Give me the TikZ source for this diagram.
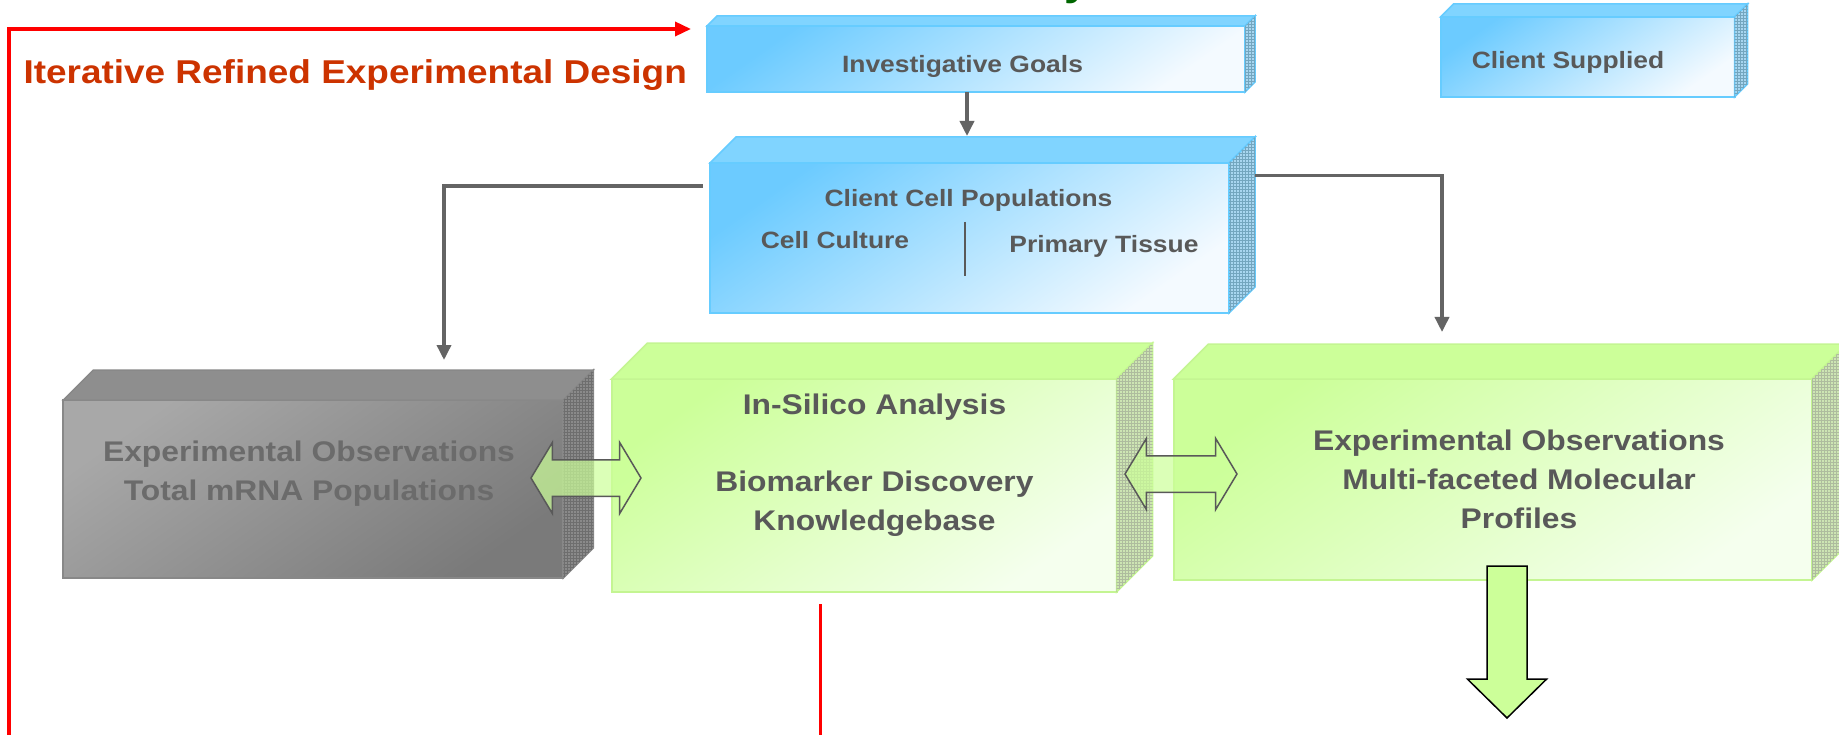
\documentclass[tikz,border=0pt]{standalone}
\usepackage{fontspec}
\setmainfont{Liberation Sans}[FakeStretch=1.12]
\usetikzlibrary{arrows.meta,shapes.arrows,patterns}

\definecolor{skyedge}{HTML}{66CCFF}
\definecolor{skytop}{HTML}{80D4FF}
\definecolor{skyside}{HTML}{A8D6F0}
\definecolor{skydeep}{HTML}{6CCBFF}
\definecolor{skypale}{HTML}{F4FAFF}
\definecolor{limeedge}{HTML}{C4F592}
\definecolor{limetop}{HTML}{CCFF99}
\definecolor{limeside}{HTML}{CDE5B3}
\definecolor{limepale}{HTML}{F5FFEE}
\definecolor{slateedge}{HTML}{888888}
\definecolor{slatetop}{HTML}{8E8E8E}
\definecolor{slateside}{HTML}{8A8A8A}
\definecolor{slatedeep}{HTML}{A8A8A8}
\definecolor{slatepale}{HTML}{7A7A7A}
\definecolor{slatetext}{HTML}{6B6B6B}
\definecolor{labelgray}{HTML}{595959}
\definecolor{wiregray}{HTML}{646464}
\definecolor{loopred}{HTML}{FF0000}
\definecolor{designred}{HTML}{CC3300}
\definecolor{titlegreen}{HTML}{006600}

\newcommand{\cubefaces}[3]{%
    \filldraw[#3lid] (#1.north west) -- ++(#2,-#2) -- ([shift={(#2,-#2)}]#1.north east) -- (#1.north east) -- cycle;
    \filldraw[#3flank] (#1.north east) -- ([shift={(#2,-#2)}]#1.north east) -- ([shift={(#2,-#2)}]#1.south east) -- (#1.south east) -- cycle;
}

\begin{document}
\begin{tikzpicture}
    [x=1pt, y=-1pt,
        conn/.style={draw=wiregray, line width=3.5pt, -{Triangle[length=15pt,width=14pt]}},
        loop/.style={draw=loopred, line width=3.5pt},
        skyfront/.style={draw=skyedge, line width=2pt, top color=skydeep, bottom color=skypale, shading angle=35},
        skylid/.style={fill=skytop, draw=skyedge, line width=1.5pt},
        skyflank/.style={fill=skyside, draw=skyedge, line width=1.5pt, postaction={pattern=grid, pattern color=skyedge!50!gray}},
        limefront/.style={draw=limeedge, line width=2pt, top color=limetop, bottom color=limepale, shading angle=35},
        limelid/.style={fill=limetop, draw=limeedge, line width=1.5pt},
        limeflank/.style={fill=limeside, draw=limeedge, line width=1.5pt, postaction={pattern=grid, pattern color=limeside!60!gray}},
        slatefront/.style={draw=slateedge, line width=2pt, top color=slatedeep, bottom color=slatepale, shading angle=35},
        slatelid/.style={fill=slatetop, draw=slateedge, line width=1.5pt},
        slateflank/.style={fill=slateside, draw=slateedge, line width=1.5pt, postaction={pattern=grid, pattern color=slateside!80!black}},
        boxlabel/.style={font=\fontsize{23.6pt}{28pt}\selectfont\bfseries, text=labelgray},
        biglabel/.style={font=\fontsize{28.4pt}{39pt}\selectfont\bfseries, text=labelgray, align=center},
        linkarrow/.style={double arrow, draw=labelgray, line width=1.5pt, fill=limetop, fill opacity=0.7, inner sep=17.5pt,
            minimum height=110pt, minimum width=70pt, double arrow head extend=17.5pt, double arrow tip angle=118},
    ]
    \tikzstyle{every node}=[inner sep=0pt, outer sep=0pt]
    \fill[white] (0,0) rectangle (1839,735);
    \useasboundingbox (0,0) rectangle (1839,735);

    % boxes
    \node[skyfront, minimum width=538pt, minimum height=66pt] (goals) at (976,59) {};
    \cubefaces{goals}{10}{sky}
    \node[skyfront, minimum width=294pt, minimum height=80pt] (supplied) at (1587.5,57) {};
    \cubefaces{supplied}{13}{sky}
    \node[skyfront, minimum width=519pt, minimum height=150pt] (cells) at (969.5,238) {};
    \cubefaces{cells}{26}{sky}
    \node[slatefront, minimum width=500pt, minimum height=178pt] (mrna) at (313.4,489) {};
    \cubefaces{mrna}{30}{slate}
    \node[limefront, minimum width=505pt, minimum height=213pt] (silico) at (864,485.5) {};
    \cubefaces{silico}{36}{lime}
    \node[limefront, minimum width=638.5pt, minimum height=201pt] (profiles) at (1492.75,479.5) {};
    \cubefaces{profiles}{35}{lime}

    % labels
    \node[boxlabel, anchor=base] (goalslabel) at (962.5,72.7) {Investigative Goals};
    \node[boxlabel, anchor=base] (suppliedlabel) at (1568,68.3) {Client Supplied};
    \node[boxlabel, anchor=base] (cellslabel) at (968.5,206.7) {Client Cell Populations};
    \node[boxlabel, anchor=base] (culturelabel) at (835,249) {Cell Culture};
    \node[boxlabel, anchor=base] (tissuelabel) at (1104,252.7) {Primary Tissue};
    \draw[labelgray, line width=1.2pt] ([xshift=-4.5pt,yshift=16pt]cells.center) -- ++(0,54);
    \node[biglabel, text=slatetext, anchor=base] (mrnalabel) at (309,500.7) {Experimental Observations\\Total mRNA Populations};
    \node[biglabel, anchor=base] (silicolabel) at (874.5,530) {In-Silico Analysis\\[38pt]Biomarker Discovery\\Knowledgebase};
    \node[biglabel, anchor=base] (profileslabel) at (1519,528.3) {Experimental Observations\\Multi-faceted Molecular\\Profiles};
    \node[anchor=base west, font=\fontsize{33pt}{40pt}\selectfont\bfseries, text=designred] (designlabel) at (23.5,83.3) {Iterative Refined Experimental Design};
    \node[anchor=base, font=\fontsize{40pt}{48pt}\selectfont\bfseries, text=titlegreen] (titletail) at (1077,-4) {y};

    % connectors
    \draw[conn] ([xshift=-9pt]goals.south) -- ([xshift=-2.5pt,yshift=27pt]cells.north);
    \draw[conn] ([xshift=-7pt,yshift=52pt]cells.west) -| ([xshift=130.6pt,yshift=40pt]mrna.north);
    \draw[conn] ([xshift=26pt,yshift=62.3pt]cells.east) -| ([xshift=-50.75pt,yshift=47pt]profiles.north);
    \node[linkarrow] (mrnalink) at (586,478) {};
    \node[linkarrow, minimum height=112pt] (profileslink) at (1181,474) {};
    \node[single arrow, draw=black, line width=1.5pt, fill=limetop, inner sep=19.25pt, minimum height=152pt, minimum width=77.5pt,
        single arrow head extend=19.5pt, single arrow tip angle=91, shape border rotate=270, anchor=tail] (outflow) at (1507,566) {};

    % design loop
    \coordinate (loopfoot) at (9,740);
    \draw[loop, -{Triangle[length=16pt,width=14pt]}] (loopfoot) |- ([xshift=-16pt,yshift=30pt]goals.west);
    \draw[loop] ([xshift=-43.6pt,yshift=-12pt]silico.south) -- ++(0,140);
\end{tikzpicture}
\end{document}
